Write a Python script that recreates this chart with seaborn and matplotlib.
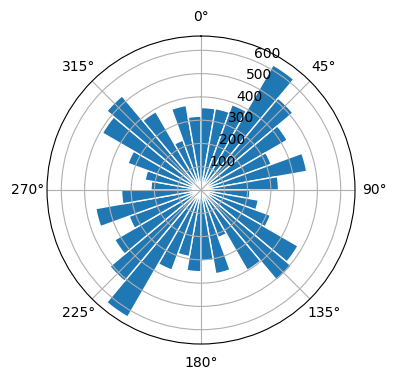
import numpy as np
import matplotlib
matplotlib.use("Agg")
import matplotlib.pyplot as plt
import seaborn as sns

# direction bins (degrees, centre of each 10 degree sector)
directions = [5, 15, 25, 35, 45, 55, 65, 75, 85,
              95, 105, 115, 125, 135, 145, 155, 165, 175,
              185, 195, 205, 215, 225, 235, 245, 255, 265,
              275, 285, 295, 305, 315, 325, 335, 345, 355]
# counts per sector
counts = [354, 355, 390, 620, 515, 428, 321, 461, 333,
          210, 250, 317, 481, 506, 398, 217, 365, 304,
          351, 290, 366, 630, 511, 428, 329, 459, 341,
          215, 244, 334, 489, 528, 389, 228, 369, 317]

theta = np.deg2rad(directions)
width = np.deg2rad(10)

bar_color = sns.color_palette("tab10")[0]

fig = plt.figure(figsize=(3.96, 3.80), dpi=100)
ax = fig.add_axes([0.1187, 0.0947, 0.7778, 0.8105], projection="polar")
ax.set_theta_zero_location("N")
ax.set_theta_direction(-1)
ax.bar(theta, counts, width=width, color=bar_color, edgecolor="white", linewidth=1)

fig.savefig("out.png", dpi=100)
